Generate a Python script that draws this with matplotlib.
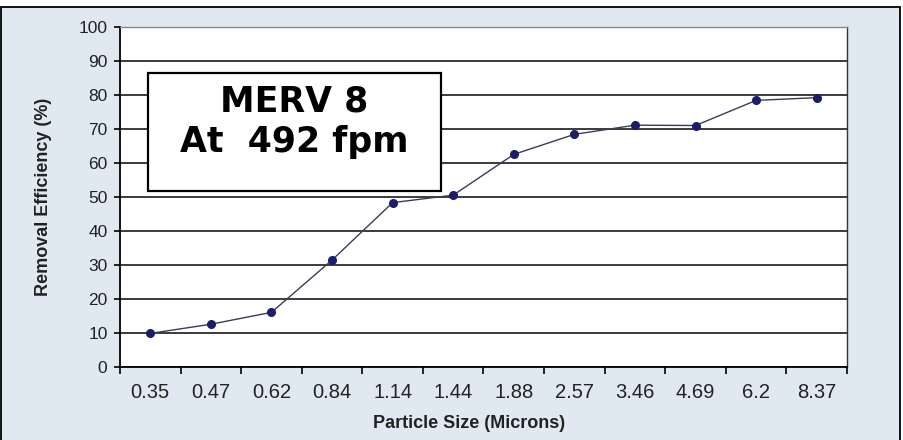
import matplotlib
matplotlib.use('Agg')
import matplotlib.pyplot as plt
from matplotlib.patches import Rectangle

plt.rcParams['font.family'] = ['Liberation Sans', 'DejaVu Sans']

# particle size bins (microns) and removal efficiency (%)
sizes = ['0.35', '0.47', '0.62', '0.84', '1.14', '1.44',
         '1.88', '2.57', '3.46', '4.69', '6.2', '8.37']
efficiency = [9.8, 12.5, 16.0, 31.4, 48.3, 50.5,
              62.5, 68.4, 71.1, 71.0, 78.4, 79.2]
y_ticks = [0, 10, 20, 30, 40, 50, 60, 70, 80, 90, 100]

fig = plt.figure(figsize=(9.04, 4.40), dpi=100)

# light blue chart area with black frame (like the Excel chart background)
fig.patches.append(Rectangle((1 / 904, -0.02), 899 / 904, 0.984 + 0.02,
                             transform=fig.transFigure, facecolor='#e0e8f2',
                             edgecolor='black', linewidth=1.3, zorder=-10))

ax = fig.add_axes([120 / 904, 73.3 / 440, 727 / 904, 339.7 / 440])
ax.set_facecolor('white')

x = list(range(len(sizes)))
ax.plot(x, efficiency, color='#3a3a5c', linewidth=1.0, zorder=3)
ax.plot(x, efficiency, linestyle='none', marker='o', markersize=5.5,
        color='#1c1c6a', zorder=4)

ax.set_ylim(0, 100)
ax.set_yticks(y_ticks)
ax.set_xlim(-0.5, len(sizes) - 0.5)
# category boundaries get the tick marks, labels sit in the middle
ax.set_xticks([i - 0.5 for i in range(len(sizes) + 1)])
ax.set_xticklabels([])
ax.set_xticks(x, minor=True)
ax.set_xticklabels(sizes, minor=True)
ax.tick_params(axis='x', which='major', length=5, width=1.2, color='black')
ax.tick_params(axis='x', which='minor', length=0, pad=12, labelsize=14.5,
               labelcolor='#222222')
ax.tick_params(axis='y', length=4, width=1.2, pad=5, labelsize=12.5,
               labelcolor='#222222')

ax.yaxis.grid(True, color='#1a1a1a', linewidth=1.2)
ax.set_axisbelow(True)
for side in ['left', 'bottom']:
    ax.spines[side].set_color('black')
    ax.spines[side].set_linewidth(1.3)
ax.spines['right'].set_color('#333333')
ax.spines['right'].set_linewidth(1.0)
ax.spines['top'].set_color('#888888')
ax.spines['top'].set_linewidth(1.0)

fig.text(469 / 904, 1 - 423 / 440, 'Particle Size (Microns)', ha='center',
         va='center', fontsize=13, fontweight='bold', color='#222222')
fig.text(44 / 904, 1 - 197 / 440, 'Removal Efficiency (%)', ha='center',
         va='center', rotation=90, fontsize=13, fontweight='bold',
         color='#222222')

# label box
ax.add_patch(Rectangle((0.0385, 0.5172), 0.403, 0.3474, transform=ax.transAxes,
                       facecolor='white', edgecolor='black', linewidth=1.6,
                       zorder=5))
ax.text(0.240, 0.782, 'MERV 8', transform=ax.transAxes, ha='center',
        va='center', fontsize=25, fontweight='bold', family='DejaVu Sans',
        zorder=6)
ax.text(0.240, 0.661, 'At  492 fpm', transform=ax.transAxes, ha='center',
        va='center', fontsize=25, fontweight='bold', family='DejaVu Sans',
        zorder=6)

fig.savefig('out.png', dpi=100)
